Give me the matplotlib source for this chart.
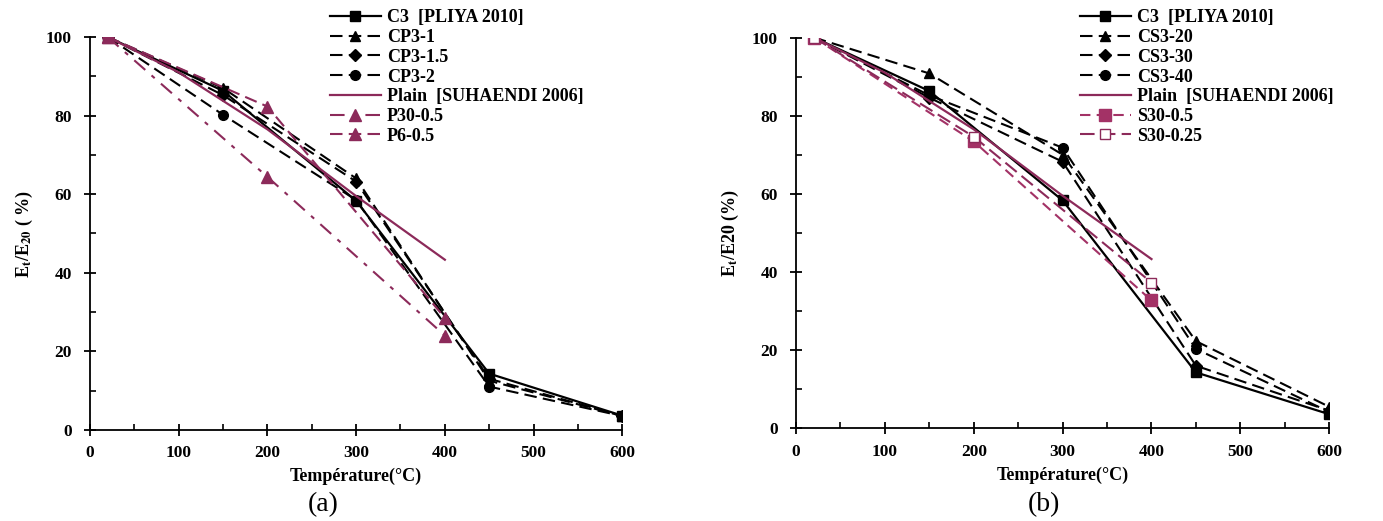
import matplotlib
matplotlib.use("Agg")
import matplotlib.pyplot as plt
from matplotlib.ticker import MultipleLocator

plt.rcParams['font.family'] = ['Liberation Serif', 'DejaVu Serif']
plt.rcParams['mathtext.fontset'] = 'stix'

# data
temp_c3 = [20, 150, 300, 450, 600]
c3 = [100, 86.3, 58.3, 14.3, 3.6]

# panel (a)
cp3_1 = [100, 87, 64, 12.5, 3.5]
cp3_15 = [100, 85.2, 63.2, 13, 3.5]
cp3_2 = [100, 80.2, 58.5, 11, 3.5]

temp_plain = [20, 100, 200, 300, 400]
plain = [100, 91, 76.5, 59.5, 43.3]

temp_p = [20, 200, 400]
p30_05 = [100, 64.4, 24]
p6_05 = [100, 82.3, 28.5]

# panel (b)
cs3_20 = [100, 90.8, 70, 22.3, 5.5]
cs3_30 = [100, 84.6, 68.2, 16, 4.5]
cs3_40 = [100, 85.2, 71.8, 20.3, 4.2]

temp_s = [20, 200, 400]
s30_05 = [100, 73.4, 32.7]
s30_025 = [100, 74.6, 37.3]

MAROON = '#8c2a5a'
PINK = '#a33266'
dash = (0, (6, 3))

fig = plt.figure(figsize=(13.83, 5.21), dpi=100)
ax_a = fig.add_axes([0.065, 0.175, 0.385, 0.754])
ax_b = fig.add_axes([0.5756, 0.178, 0.3855, 0.750])

def style_axes(ax, ylabel):
    ax.set_xlim(0, 600)
    ax.set_ylim(0, 100)
    ax.xaxis.set_major_locator(MultipleLocator(100))
    ax.xaxis.set_minor_locator(MultipleLocator(50))
    ax.yaxis.set_major_locator(MultipleLocator(20))
    ax.yaxis.set_minor_locator(MultipleLocator(10))
    for s in ['top', 'right']:
        ax.spines[s].set_visible(False)
    for s in ['left', 'bottom']:
        ax.spines[s].set_linewidth(1.3)
    ax.tick_params(which='major', direction='inout', length=8, width=1.3)
    ax.tick_params(which='minor', direction='in', length=4, width=1.2)
    ax.tick_params(axis='x', labelsize=12.5, pad=7)
    ax.tick_params(axis='y', labelsize=12.5, pad=9)
    for t in ax.get_xticklabels() + ax.get_yticklabels():
        t.set_fontweight('bold')
    ax.set_xlabel('Température(°C)', fontsize=13, fontweight='bold', labelpad=5)
    ax.set_ylabel(ylabel, fontsize=13, fontweight='bold', labelpad=8)

# ---- panel (a)
ax_a.plot(temp_c3, c3, color='black', lw=1.6, marker='s', ms=7, label='C3  [PLIYA 2010]')
ax_a.plot(temp_c3, cp3_1, color='black', lw=1.5, ls=dash, marker='^', ms=7, label='CP3-1')
ax_a.plot(temp_c3, cp3_15, color='black', lw=1.5, ls=dash, marker='D', ms=6, label='CP3-1.5')
ax_a.plot(temp_c3, cp3_2, color='black', lw=1.5, ls=dash, marker='o', ms=7, label='CP3-2')
ax_a.plot(temp_plain, plain, color=MAROON, lw=1.6, label='Plain  [SUHAENDI 2006]')
ax_a.plot(temp_p, p30_05, color=MAROON, lw=1.5, ls=(0, (7, 4, 2, 4)), marker='^', ms=8,
          label='P30-0.5')
ax_a.plot(temp_p, p6_05, color=MAROON, lw=1.5, ls=dash, marker='^', ms=8, label='P6-0.5')
ax_a.plot([20], [100], 'o', color=MAROON, ms=8)
style_axes(ax_a, r'E$_{\mathbf{t}}$/E$_{\mathbf{20}}$ ( %)')

# ---- panel (b)
ax_b.plot(temp_c3, c3, color='black', lw=1.6, marker='s', ms=7, label='C3  [PLIYA 2010]')
ax_b.plot(temp_c3, cs3_20, color='black', lw=1.5, ls=dash, marker='^', ms=7, label='CS3-20')
ax_b.plot(temp_c3, cs3_30, color='black', lw=1.5, ls=dash, marker='D', ms=6, label='CS3-30')
ax_b.plot(temp_c3, cs3_40, color='black', lw=1.5, ls=dash, marker='o', ms=7, label='CS3-40')
ax_b.plot(temp_plain, plain, color=MAROON, lw=1.6, label='Plain  [SUHAENDI 2006]')
ax_b.plot(temp_s, s30_05, color=PINK, lw=1.5, ls=(0, (5, 3)), marker='s', ms=9,
          label='S30-0.5')
ax_b.plot(temp_s, s30_025, color=MAROON, lw=1.5, ls=(0, (7, 3)), marker='s', ms=7,
          mfc='white', mec=MAROON, label='S30-0.25')
style_axes(ax_b, r'E$_{\mathbf{t}}$/E20 (%)')

leg_kw = dict(loc='upper left', frameon=False, borderpad=0, borderaxespad=0,
              handlelength=2.8, handletextpad=0.35, labelspacing=0.15,
              prop={'family': 'Liberation Serif', 'weight': 'bold', 'size': 13})
fig.legend(handles=ax_a.get_lines()[:7], bbox_to_anchor=(0.2386, 0.982), **leg_kw)
fig.legend(handles=ax_b.get_lines()[:7], bbox_to_anchor=(0.781, 0.982), **leg_kw)

fig.text(323 / 1383, 1 - 505 / 521, '(a)', fontsize=20, ha='center', va='center')
fig.text(1044 / 1383, 1 - 505 / 521, '(b)', fontsize=20, ha='center', va='center')

fig.savefig('out.png', dpi=100)
